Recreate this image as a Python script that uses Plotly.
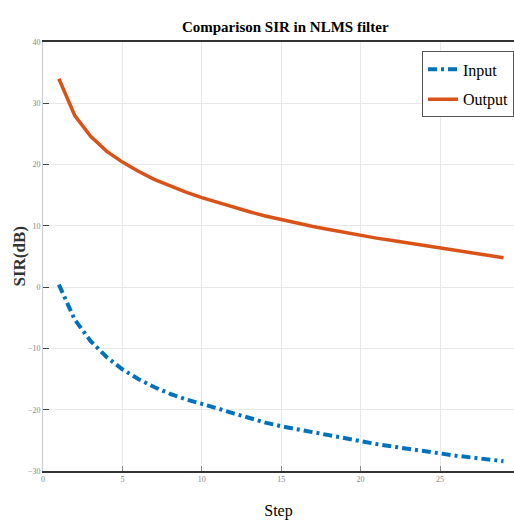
import plotly.graph_objects as go

# SIR values
steps = list(range(1, 30))
sir_input = [0.4, -5.3, -8.8, -11.4, -13.4, -15.0, -16.3, -17.4, -18.3, -19.0,
             -19.8, -20.6, -21.4, -22.1, -22.7, -23.2, -23.7, -24.2, -24.7, -25.2,
             -25.6, -26.0, -26.4, -26.8, -27.2, -27.5, -27.8, -28.1, -28.4]
sir_output = [34.0, 28.0, 24.6, 22.2, 20.4, 18.9, 17.6, 16.5, 15.5, 14.6,
              13.8, 13.0, 12.3, 11.6, 11.0, 10.4, 9.9, 9.4, 8.9, 8.4,
              8.0, 7.6, 7.2, 6.8, 6.4, 6.0, 5.6, 5.2, 4.8]

x_ticks = [0, 5, 10, 15, 20, 25, 30]
y_ticks = [40, 30, 20, 10, 0, -10, -20, -30]

colors = {
    'input': '#0072BD',
    'output': '#D95319',
}
serif = 'Liberation Serif, Times New Roman, serif'

fig = go.Figure()

fig.add_trace(go.Scatter(
    x=steps, y=sir_input, mode='lines', name='Input',
    legendgroup='in',
    line=dict(color=colors['input'], width=4, dash='9px,4px,3px,4px')
))
fig.add_trace(go.Scatter(
    x=steps, y=sir_output, mode='lines', name='Output',
    legendgroup='out',
    line=dict(color=colors['output'], width=3.5)
))

fig.update_layout(
    width=514,
    height=520,
    margin=dict(l=43, r=0, t=42, b=49),
    paper_bgcolor='white',
    plot_bgcolor='white',
    title=dict(
        text='<b>Comparison SIR in NLMS filter</b>',
        font=dict(family=serif, size=15, color='black'),
        x=0.555, xref='container', xanchor='center',
        y=1 - 27 / 520, yref='container', yanchor='middle'
    ),
    legend=dict(
        x=1, xanchor='right', y=0.978, yanchor='top',
        bgcolor='white', bordercolor='#555555', borderwidth=1,
        font=dict(family=serif, size=16, color='black'),
        tracegroupgap=6,
        itemwidth=30
    ),
    showlegend=True
)

# y-axis label placed by hand: the axis title gets squeezed into the margin
fig.add_annotation(
    text='<b>SIR(dB)</b>', textangle=-90,
    xref='paper', yref='paper', x=(19 - 43) / 471, y=0.5,
    xanchor='center', yanchor='middle', showarrow=False,
    font=dict(family=serif, size=17, color='#333333')
)

fig.update_xaxes(
    range=[0, 29.66],
    tickvals=x_ticks,
    ticks='inside', ticklen=5, tickcolor='#888888',
    tickfont=dict(family=serif, size=8, color='#888888'),
    showgrid=True, gridcolor='#e8e8e8', gridwidth=1,
    showline=True, linecolor='#333333', linewidth=1.5, mirror=True,
    zeroline=False,
    title=dict(text='Step', font=dict(family=serif, size=16, color='black'),
               standoff=21)
)
fig.update_yaxes(
    range=[-30, 40],
    tickvals=y_ticks,
    ticks='inside', ticklen=6, tickcolor='#444444',
    tickfont=dict(family=serif, size=8, color='#888888'),
    showgrid=True, gridcolor='#e8e8e8', gridwidth=1,
    showline=True, linecolor='#cccccc', linewidth=1,
    zeroline=False
)

# drop the default page margin so the 514x520 figure fills the window
fig.write_html("out.html", config={'displayModeBar': False},
               post_script="document.body.style.margin='0';")
